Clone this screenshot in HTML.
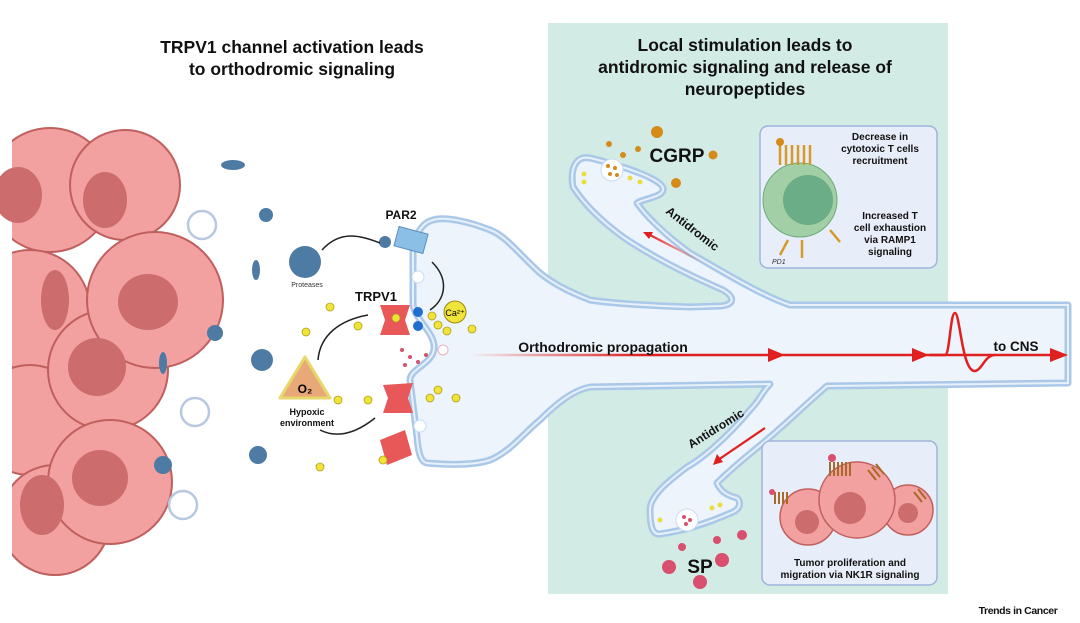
<!DOCTYPE html>
<html><head><meta charset="utf-8"><style>
html,body{margin:0;padding:0;background:#fff;}
svg{display:block;font-family:"Liberation Sans",sans-serif;}
</style></head><body>
<svg width="1080" height="623" viewBox="0 0 1080 623" xmlns="http://www.w3.org/2000/svg">
<defs>
<linearGradient id="rg" gradientUnits="userSpaceOnUse" x1="470" y1="0" x2="640" y2="0"><stop offset="0" stop-color="#e02020" stop-opacity="0"/><stop offset="1" stop-color="#e02020"/></linearGradient>
<linearGradient id="rg2" x1="1" y1="1" x2="0" y2="0"><stop offset="0" stop-color="#e02020" stop-opacity="0"/><stop offset="1" stop-color="#e02020"/></linearGradient>
</defs>
<rect x="548" y="23" width="400" height="571" fill="#d3ebe5"/>

<g fill="#f2a0a0" stroke="#c0605e" stroke-width="2">
<circle cx="50" cy="190" r="62"/>
<circle cx="125" cy="185" r="55"/>
<circle cx="30" cy="310" r="60"/>
<circle cx="30" cy="420" r="55"/>
<circle cx="55" cy="520" r="55"/>
<circle cx="108" cy="370" r="60"/>
<circle cx="110" cy="482" r="62"/>
<circle cx="155" cy="300" r="68"/>
</g>
<rect x="0" y="120" width="12" height="460" fill="#fff"/>
<g fill="#cc6c6c">
<ellipse cx="18" cy="195" rx="24" ry="28"/>
<ellipse cx="105" cy="200" rx="22" ry="28"/>
<ellipse cx="148" cy="302" rx="30" ry="28"/>
<ellipse cx="97" cy="367" rx="29" ry="29"/>
<ellipse cx="100" cy="478" rx="28" ry="28"/>
<ellipse cx="42" cy="505" rx="22" ry="30"/>
<ellipse cx="55" cy="300" rx="14" ry="30"/>
</g>
<g fill="none" stroke="#b8c8e0" stroke-width="2.5">
<circle cx="202" cy="225" r="14"/><circle cx="195" cy="412" r="14"/><circle cx="183" cy="505" r="14"/>
</g>
<g fill="#4d7ba4">
<ellipse cx="233" cy="165" rx="12" ry="5"/><circle cx="266" cy="215" r="7"/><ellipse cx="256" cy="270" rx="4" ry="10"/>
<circle cx="215" cy="333" r="8"/><circle cx="262" cy="360" r="11"/><ellipse cx="163" cy="363" rx="4" ry="11"/>
<circle cx="258" cy="455" r="9"/><circle cx="163" cy="465" r="9"/>
<circle cx="305" cy="262" r="16"/>
<circle cx="385" cy="242" r="6"/>
</g>

<path d="M1068,305 L790,305 C760,295 720,270 690,253 C665,235 645,215 637,203 C645,198 665,197 663,188 C660,178 620,165 590,158 C575,155 570,170 573,187 C585,205 600,220 623,237 C660,262 700,280 723,290 C735,297 735,305 720,306 L690,307 C650,306 610,303 590,300 C570,292 555,285 540,273 C520,255 505,235 490,230 C470,222 445,216 433,220 C420,223 413,240 413,253 L413,303 C413,320 440,335 433,353 C428,365 410,370 410,380 L417,437 C418,450 420,462 427,463 C450,465 475,465 490,460 C510,452 525,432 540,420 C560,400 575,390 590,387 L770,384 C760,395 760,400 750,410 C725,440 700,460 687,467 C670,480 650,495 650,510 C650,525 652,535 660,534 C690,530 715,520 733,512 C742,508 740,500 737,498 C725,495 720,490 717,483 C735,465 755,450 770,437 C790,420 805,405 827,386 L1068,383 Z" fill="#eef4fb" stroke="#aac8e8" stroke-width="7" stroke-linejoin="round"/>
<path d="M1068,305 L790,305 C760,295 720,270 690,253 C665,235 645,215 637,203 C645,198 665,197 663,188 C660,178 620,165 590,158 C575,155 570,170 573,187 C585,205 600,220 623,237 C660,262 700,280 723,290 C735,297 735,305 720,306 L690,307 C650,306 610,303 590,300 C570,292 555,285 540,273 C520,255 505,235 490,230 C470,222 445,216 433,220 C420,223 413,240 413,253 L413,303 C413,320 440,335 433,353 C428,365 410,370 410,380 L417,437 C418,450 420,462 427,463 C450,465 475,465 490,460 C510,452 525,432 540,420 C560,400 575,390 590,387 L770,384 C760,395 760,400 750,410 C725,440 700,460 687,467 C670,480 650,495 650,510 C650,525 652,535 660,534 C690,530 715,520 733,512 C742,508 740,500 737,498 C725,495 720,490 717,483 C735,465 755,450 770,437 C790,420 805,405 827,386 L1068,383 Z" fill="none" stroke="#e8f0fa" stroke-width="2" stroke-linejoin="round"/>

<circle cx="612" cy="170" r="11" fill="#fff" stroke="#c9dcef"/>
<g fill="#d68a1a"><circle cx="608" cy="166" r="2"/><circle cx="615" cy="168" r="2"/><circle cx="610" cy="174" r="2"/><circle cx="617" cy="175" r="2"/>
<circle cx="657" cy="132" r="6"/><circle cx="609" cy="144" r="3"/><circle cx="623" cy="155" r="3"/><circle cx="638" cy="149" r="3"/><circle cx="713" cy="155" r="4.5"/><circle cx="676" cy="183" r="5"/></g>
<g fill="#e8de40"><circle cx="584" cy="174" r="2.5"/><circle cx="584" cy="182" r="2.5"/><circle cx="630" cy="178" r="2.5"/><circle cx="640" cy="182" r="2.5"/></g>
<circle cx="687" cy="520" r="11" fill="#fff" stroke="#c9dcef"/>
<g fill="#d8506e"><circle cx="684" cy="517" r="2"/><circle cx="690" cy="520" r="2"/><circle cx="686" cy="524" r="2"/>
<circle cx="682" cy="547" r="4"/><circle cx="717" cy="540" r="4"/><circle cx="742" cy="535" r="5"/><circle cx="722" cy="560" r="7"/><circle cx="669" cy="567" r="7"/><circle cx="700" cy="582" r="7"/></g>
<g fill="#e8de40"><circle cx="660" cy="520" r="2.5"/><circle cx="712" cy="508" r="2.5"/><circle cx="720" cy="505" r="2.5"/></g>

<g fill="#e85858"><path d="M380,305 L410,305 L405,320 L410,335 L380,335 L385,320 Z"/>
<path d="M383,385 L413,383 L408,398 L413,413 L383,413 L388,398 Z"/>
<path d="M380,440 L405,430 L412,455 L387,465 Z"/></g>
<g fill="#8cbfe6" stroke="#5a8fc0"><rect x="396" y="230" width="30" height="20" transform="rotate(15 411 240)"/></g>
<circle cx="418" cy="312" r="5" fill="#1e6fcf"/><circle cx="418" cy="326" r="5" fill="#1e6fcf"/>
<circle cx="455" cy="312" r="11" fill="#f0e33a" stroke="#9a8c10"/>
<text x="455" y="316" font-size="9" text-anchor="middle">Ca²⁺</text>
<g fill="#f0e33a" stroke="#b0a020" stroke-width="0.8">
<circle cx="330" cy="307" r="4"/><circle cx="358" cy="326" r="4"/><circle cx="306" cy="332" r="4"/><circle cx="396" cy="318" r="4"/>
<circle cx="432" cy="316" r="4"/><circle cx="438" cy="325" r="4"/><circle cx="447" cy="331" r="4"/><circle cx="472" cy="329" r="4"/>
<circle cx="368" cy="400" r="4"/><circle cx="338" cy="400" r="4"/><circle cx="430" cy="398" r="4"/><circle cx="438" cy="390" r="4"/><circle cx="456" cy="398" r="4"/>
<circle cx="383" cy="460" r="4"/><circle cx="320" cy="467" r="4"/></g>
<g fill="#d8506e"><circle cx="402" cy="350" r="2"/><circle cx="410" cy="357" r="2"/><circle cx="418" cy="362" r="2"/><circle cx="405" cy="365" r="2"/><circle cx="426" cy="355" r="2"/></g>
<circle cx="443" cy="350" r="5" fill="#fff" stroke="#e8b0c0"/>
<circle cx="420" cy="426" r="6" fill="#fff" stroke="#c9dcef"/>
<circle cx="418" cy="277" r="6" fill="#fff" stroke="#c9dcef"/>
<g fill="none" stroke="#222" stroke-width="1.5">
<path d="M322,250 C340,230 360,235 380,243"/>
<path d="M432,262 C450,280 445,300 430,310"/>
<path d="M318,360 C320,335 340,320 368,315"/>
<path d="M320,430 C340,440 360,430 375,418"/>
</g>
<path d="M305,357 L330,398 L280,398 Z" fill="#e8a878" stroke="#e6d86a" stroke-width="3" stroke-linejoin="round"/>
<text x="305" y="393" font-size="12" font-weight="bold" text-anchor="middle">O₂</text>

<line x1="470" y1="355" x2="1060" y2="355" stroke="url(#rg)" stroke-width="2.5"/>
<path d="M930,355 L945,355 C950,355 950,313 955,313 C960,313 962,372 975,371 C982,370 985,355 995,355" fill="none" stroke="#e02020" stroke-width="2.5"/>
<g fill="#e02020"><path d="M768,348 L785,355 L768,362Z"/><path d="M912,348 L929,355 L912,362Z"/><path d="M1050,348 L1068,355 L1050,362Z"/></g>
<line x1="702" y1="262" x2="648" y2="234" stroke="url(#rg2)" stroke-width="2.2"/><path d="M643,232 L653,232 L649,239Z" fill="#e02020"/>
<line x1="765" y1="428" x2="718" y2="460" stroke="#e02020" stroke-width="2.2"/><path d="M713,465 L717,454 L723,462Z" fill="#e02020"/>

<rect x="760" y="126" width="177" height="142" rx="8" fill="#e8eef9" stroke="#9fb4dc" stroke-width="1.5"/>
<circle cx="800" cy="200" r="37" fill="#a2cfa6" stroke="#6cab78"/>
<circle cx="808" cy="200" r="25" fill="#6aad86"/>
<g stroke="#d69a28" stroke-width="2.5" fill="none"><path d="M780,145 v20 M786,145 v20 M792,145 v20 M798,145 v20 M804,145 v20 M810,145 v20"/>
<path d="M788,240 l-8,15 M802,240 v18 M830,230 l10,12"/></g>
<circle cx="780" cy="142" r="4" fill="#d68a1a"/>
<rect x="762" y="441" width="175" height="144" rx="8" fill="#e8eef9" stroke="#9fb4dc" stroke-width="1.5"/>
<g fill="#f2a0a0" stroke="#c0605e" stroke-width="1.5"><circle cx="808" cy="517" r="28"/><circle cx="908" cy="510" r="25"/><circle cx="857" cy="500" r="38"/></g>
<g fill="#cc6c6c"><circle cx="807" cy="522" r="12"/><circle cx="908" cy="513" r="10"/><circle cx="850" cy="508" r="16"/></g>
<g stroke="#a86a28" stroke-width="2"><path d="M830,462 v14 M834,462 v14 M838,462 v14 M842,462 v14 M846,462 v14 M850,462 v14 M775,492 v12 M779,492 v12 M783,492 v12 M787,492 v12 M868,470 l8,10 M872,467 l8,10 M876,464 l8,10 M914,492 l8,10 M918,489 l8,10"/></g>
<circle cx="832" cy="458" r="4" fill="#d8506e"/><circle cx="772" cy="492" r="3" fill="#d8506e"/>

<g font-weight="bold" fill="#111" text-anchor="middle">
<text x="292" y="53" font-size="17.5">TRPV1 channel activation leads</text>
<text x="292" y="75" font-size="17.5">to orthodromic signaling</text>
<text x="745" y="51" font-size="17.5">Local stimulation leads to</text>
<text x="745" y="73" font-size="17.5">antidromic signaling and release of</text>
<text x="745" y="95" font-size="17.5">neuropeptides</text>
<text x="677" y="162" font-size="19">CGRP</text>
<text x="700" y="573" font-size="19">SP</text>
<text x="401" y="219" font-size="12">PAR2</text>
<text x="376" y="301" font-size="13">TRPV1</text>
<text x="603" y="352" font-size="14">Orthodromic propagation</text>
<text x="1016" y="351" font-size="13.5">to CNS</text>
<text x="307" y="415" font-size="9">Hypoxic</text>
<text x="307" y="426" font-size="9">environment</text>
<g font-size="10"><text x="880" y="140">Decrease in</text><text x="880" y="152">cytotoxic T cells</text><text x="880" y="164">recruitment</text>
<text x="890" y="219">Increased T</text><text x="890" y="231">cell exhaustion</text><text x="890" y="243">via RAMP1</text><text x="890" y="255">signaling</text>
<text x="850" y="566">Tumor proliferation and</text><text x="850" y="578">migration via NK1R signaling</text></g>
<text x="690" y="232" font-size="12" transform="rotate(38 690 232)">Antidromic</text>
<text x="718" y="432" font-size="12" transform="rotate(-32 718 432)">Antidromic</text>
<text x="1018" y="614" font-size="10.5" letter-spacing="-0.4">Trends in Cancer</text>
</g>
<text x="307" y="287" font-size="7" fill="#333" text-anchor="middle">Proteases</text>
<text x="772" y="264" font-size="7" fill="#333" font-style="italic">PD1</text>
</svg>
</body></html>
